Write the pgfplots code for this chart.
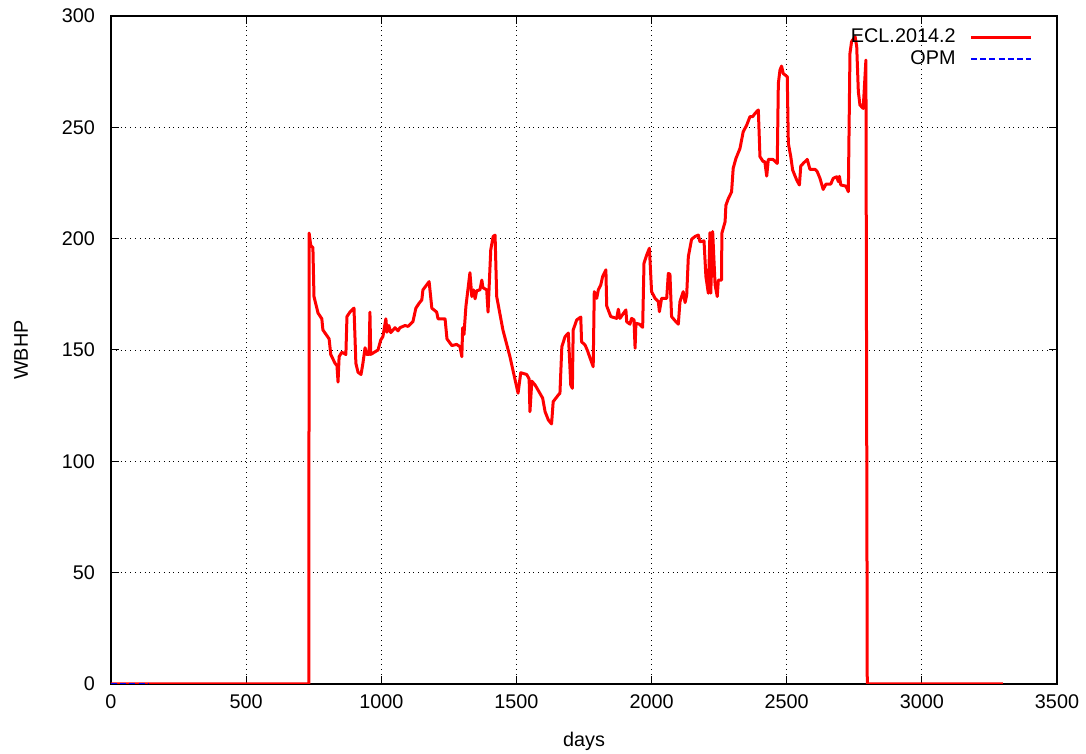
\documentclass[border=0pt]{standalone}
\usepackage{fontspec}
\setmainfont{Liberation Sans}
\usepackage{pgfplots}
\pgfplotsset{compat=1.18}

\begin{document}
\fontsize{9.9}{11.5}\selectfont
\begin{tikzpicture}
\begin{axis}[
  at={(0,0)}, anchor=south west,
  scale only axis,
  width=473pt, height=334pt,
  xmin=0, xmax=3500, ymin=0, ymax=300,
  xtick={0,500,...,3500}, ytick={0,50,...,300},
  /pgf/number format/assume math mode=true,
  /pgf/number format/1000 sep={},
  tick align=inside, tick pos=both,
  major tick length=4pt,
  tick style={black, line width=0.5pt},
  axis line style={black, line width=0.6pt},
  grid=major,
  major grid style={black, dotted, line width=0.4pt},
  xlabel={days}, ylabel={WBHP},
  xlabel style={at={(axis description cs:0.5,-0.0853)}, anchor=center},
  ylabel style={at={(axis description cs:-0.0951,0.5)}, anchor=center},
  yticklabel style={xshift=-4.5pt},
  xticklabel style={yshift=-2pt},
  ticklabel style={font=\fontsize{9.9}{11.5}\selectfont},
  label style={font=\fontsize{9.9}{11.5}\selectfont},
  legend style={at={(0.9767,0.99)}, anchor=north east, draw=none, fill=none,
    font=\fontsize{9.9}{11.5}\selectfont, row sep=-1.5pt, inner sep=1pt},
  legend cell align=right,
  legend plot pos=right,
  legend image code/.code={\path (0pt,0pt); \draw[#1] (5pt,0pt) -- (35pt,0pt);},
]
% well bottom-hole pressure, reference simulator
\addplot[red, line width=1.5pt, line join=round] coordinates {
(0,0) (732,0) (733,202.5) (739,197) (747,196) (751,174) (766,166.6) (780,164)
(784,159) (807,155) (813,148) (829,144) (836,143) (840,135.6) (844,147) (854,149)
(869,148) (873,165) (884,167) (899,168.8) (906,144) (914,140) (925,139) (932,144)
(940,151) (946,148) (955,148) (958,167) (961,148) (969,148.6) (988,150) (998,154.5)
(1006,156) (1017,164) (1021,158) (1028,161) (1035,157.8) (1051,160) (1062,158.6)
(1069,160) (1088,161) (1099,160.6) (1117,162.7) (1128,168.8) (1140,171) (1150,172.5)
(1154,177) (1177,180.7) (1187,168.8) (1205,167) (1210,164) (1236,164) (1243,155)
(1261,152) (1279,152.5) (1291,151.5) (1298,147) (1301,160) (1306,157) (1313,169.5)
(1328,184.7) (1335,174) (1341,177) (1347,173) (1353,176.6) (1365,177) (1372,181.4)
(1376,178) (1390,177) (1395,167) (1405,195) (1414,201) (1421,201.6) (1427,174)
(1450,159) (1476,147) (1506,130.6) (1516,139.8) (1538,139) (1547,137) (1550,122.3)
(1557,136) (1569,134.3) (1580,132) (1597,128.4) (1606,122.3) (1618,118.6) (1630,116.8)
(1636,126.8) (1655,129.8) (1661,130.6) (1668,151.5) (1680,156) (1692,157.6) (1701,134.3)
(1707,132.8) (1710,159) (1723,163.5) (1738,164.8) (1741,153.7) (1754,152.2) (1762,150)
(1775,145.5) (1784,142.5) (1788,176.2) (1797,173.2) (1803,177) (1812,179.2) (1819,183)
(1831,186) (1834,169.8) (1849,165) (1871,164.2) (1877,168.3) (1883,164.2) (1905,168)
(1908,162.7) (1920,161.6) (1926,164.2) (1935,163.5) (1939,150.8) (1942,162) (1955,161.6)
(1967,160.2) (1972,189) (1982,192.7) (1992,195.7) (2000,176.2) (2013,173.2) (2025,171.7)
(2029,167.2) (2037,173.2) (2056,173.2) (2062,184.4) (2068,184) (2074,165) (2090,162.7)
(2099,161.6) (2105,171.7) (2117,176.2) (2124,171.3) (2130,174.7) (2136,191.9) (2148,199.7)
(2161,201) (2173,201.6) (2179,198.6) (2194,199) (2201,183) (2210,175.5) (2216,202.7)
(2219,175.5) (2226,203.2) (2235,179.2) (2243,174) (2247,181.4) (2259,181.4) (2260,202.4)
(2272,207.6) (2275,215) (2284,218) (2296,221) (2302,231.6) (2312,236) (2327,240.5)
(2339,248) (2352,251) (2364,254.8) (2374,254.8) (2383,256.3) (2395,257.8) (2401,236.8)
(2413,234.6) (2419,234.6) (2426,228.1) (2432,235.6) (2449,235.6) (2465,233.8) (2469,269.7)
(2475,275.7) (2481,277.5) (2487,274.2) (2502,272.7) (2506,242.8) (2515,236.8) (2522,230.8)
(2537,226.3) (2547,224.1) (2552,232.6) (2561,233.8) (2576,235.6) (2586,231.1) (2605,231.1)
(2613,230.1) (2623,227.1) (2635,222.1) (2645,224.5) (2663,224.5) (2672,227.1) (2685,227.8)
(2691,225.6) (2695,228) (2700,224.1) (2719,223.6) (2728,221.1) (2734,283.2) (2740,288.5)
(2753,290.7) (2759,286.2) (2765,266) (2771,260) (2783,258.5) (2793,280.2) (2798,0)
(3300,0)
};
\addlegendentry{ECL.2014.2}
% well bottom-hole pressure, OPM
\addplot[blue, line width=1.2pt, dash pattern=on 3pt off 1.6pt] coordinates {
(0,0) (137,0)
};
\addlegendentry{OPM}
\end{axis}
\pgfresetboundingbox
\useasboundingbox (-55.5pt,-35pt) rectangle (487.5pt,342pt);
\end{tikzpicture}
\end{document}
